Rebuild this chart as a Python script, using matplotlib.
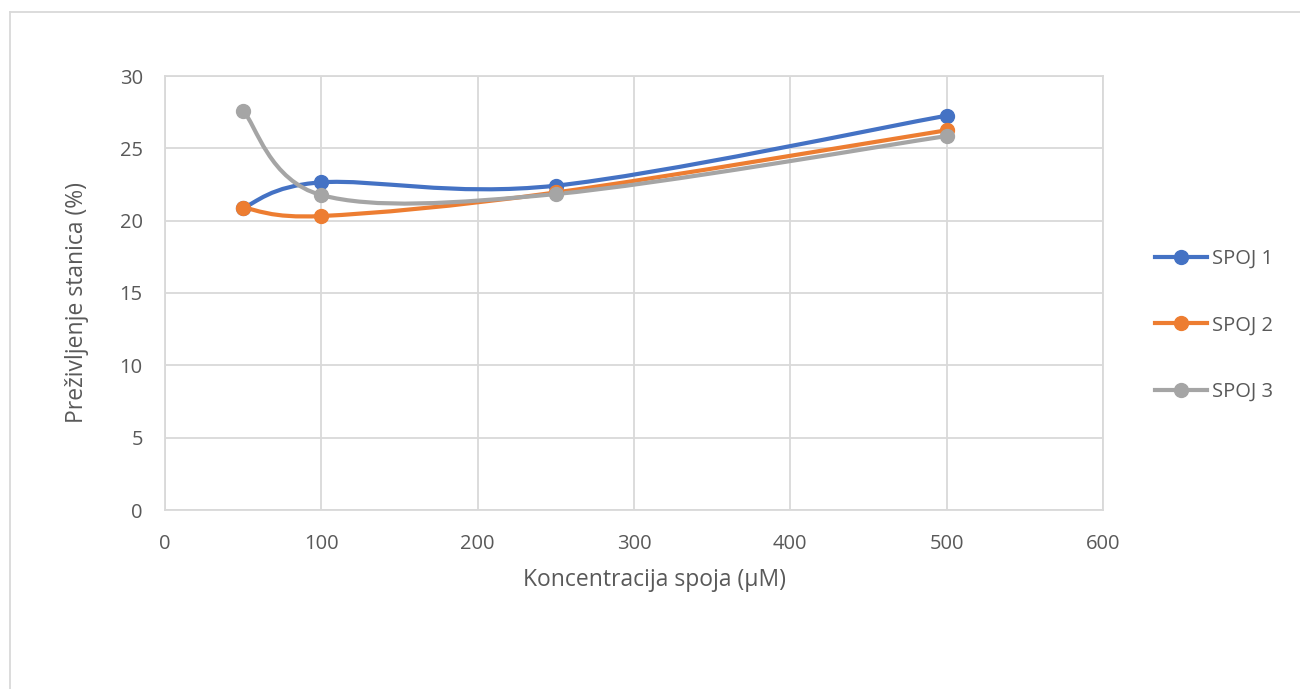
import matplotlib
matplotlib.use("Agg")
import matplotlib.pyplot as plt
import numpy as np
from matplotlib.path import Path
from matplotlib.patches import PathPatch
from matplotlib.lines import Line2D

plt.rcParams['font.family'] = ['Open Sans', 'DejaVu Sans']

concentrations = [50, 100, 250, 500]
spoj1 = [20.9, 22.65, 22.42, 27.26]
spoj2 = [20.9, 20.32, 21.95, 26.25]
spoj3 = [27.6, 21.77, 21.84, 25.85]
series_names = ['SPOJ 1', 'SPOJ 2', 'SPOJ 3']
colors = ['#4472C4', '#ED7D31', '#A5A5A5']

xticks = [0, 100, 200, 300, 400, 500, 600]
yticks = [0, 5, 10, 15, 20, 25, 30]

W, H = 1300, 689
fig = plt.figure(figsize=(W / 100, H / 100), dpi=100)
ax = fig.add_axes([165 / W, 1 - 510 / H, (1103 - 165) / W, (510 - 76) / H])

text_color = '#595959'
grid_color = '#D9D9D9'


def smooth_path(xs, ys):
    pts = np.column_stack([xs, ys]).astype(float)
    n = len(pts)
    verts = [pts[0]]
    codes = [Path.MOVETO]
    for i in range(n - 1):
        p0 = pts[i - 1] if i > 0 else pts[i]
        p1 = pts[i]
        p2 = pts[i + 1]
        p3 = pts[i + 2] if i + 2 < n else pts[i + 1]
        c1 = p1 + (p2 - p0) / 6.0
        c2 = p2 - (p3 - p1) / 6.0
        verts += [c1, c2, p2]
        codes += [Path.CURVE4] * 3
    return Path(verts, codes)


all_series = [spoj1, spoj2, spoj3]
for vals, c, name in zip(all_series, colors, series_names):
    patch = PathPatch(smooth_path(concentrations, vals), facecolor='none',
                      edgecolor=c, lw=3.0, capstyle='round', joinstyle='round', zorder=3)
    ax.add_patch(patch)
    ax.plot(concentrations, vals, linestyle='none', marker='o', markersize=10,
            color=c, zorder=4)

ax.set_xlim(0, 600)
ax.set_ylim(0, 30)
ax.set_xticks(xticks)
ax.set_yticks(yticks)
ax.grid(True, color=grid_color, lw=1.3)
ax.set_axisbelow(True)
for s in ax.spines.values():
    s.set_color(grid_color)
    s.set_linewidth(1.3)
ax.tick_params(axis='x', length=0, labelsize=14.5, colors=text_color, pad=17)
ax.tick_params(axis='y', length=0, labelsize=14.5, colors=text_color, pad=16)
ax.set_xlabel('Koncentracija spoja (µM)', fontsize=16.5, color=text_color)
ax.set_ylabel('Preživljenje stanica (%)', fontsize=16.5, color=text_color)
ax.xaxis.set_label_coords(0.522, -(580 - 510) / (510 - 76), transform=ax.transAxes)
ax.xaxis.label.set_va('center')
ax.yaxis.set_label_coords(-(165 - 77) / (1103 - 165), 0.477, transform=ax.transAxes)
ax.yaxis.label.set_va('center')

handles = [Line2D([0], [0], color=c, lw=3, marker='o', markersize=10) for c in colors]
leg = fig.legend(handles, series_names, loc='upper left',
                 bbox_to_anchor=(1137 / W, 1 - 231 / H), frameon=False,
                 fontsize=14.5, labelcolor=text_color, handlelength=2.6,
                 labelspacing=2.3, handletextpad=0.2)

fig.add_artist(Line2D([10 / W, 10 / W], [0, 1 - 12 / H], color=grid_color, lw=1.3,
                      transform=fig.transFigure))
fig.add_artist(Line2D([10 / W, 1], [1 - 12 / H, 1 - 12 / H], color=grid_color, lw=1.3,
                      transform=fig.transFigure))

fig.savefig('out.png', dpi=100, facecolor='white')
